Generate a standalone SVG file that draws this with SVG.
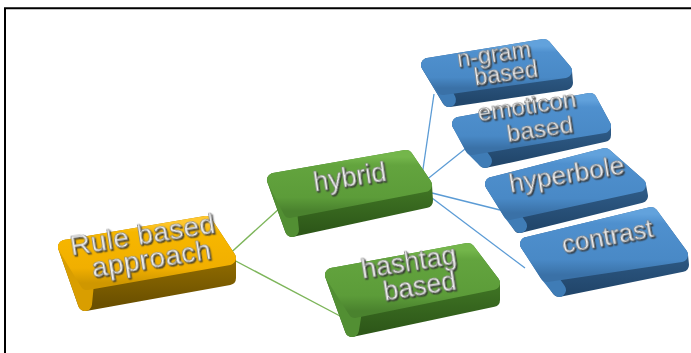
<svg xmlns="http://www.w3.org/2000/svg" width="691" height="353" viewBox="0 0 691 353">
  <style>
    .frame { stroke: #000; stroke-width: 2; fill: none; }
    .link-g { stroke: #7DB55A; stroke-width: 1.4; fill: none; }
    .link-b { stroke: #5B9BD5; stroke-width: 1.3; fill: none; }
    .sil, .side, .top { stroke-width: 14; stroke-linejoin: round; }
    .orange .sil { fill: url(#oSil); stroke: url(#oSil); }
    .orange .side { fill: #D99E00; stroke: #D99E00; }
    .orange .top { fill: url(#oTop); stroke: url(#oTop); }
    .green .sil { fill: url(#gSil); stroke: url(#gSil); }
    .green .side { fill: #528F33; stroke: #528F33; }
    .green .top { fill: url(#gTop); stroke: url(#gTop); }
    .blue .sil { fill: url(#bSil); stroke: url(#bSil); }
    .blue .side { fill: #3F7CB6; stroke: #3F7CB6; }
    .blue .top { fill: url(#bTop); stroke: url(#bTop); }
    .lbl { font-family: "Liberation Sans", Arial, sans-serif; fill: #F2F2F2; stroke: #7A7A7A; stroke-width: 0.7; text-anchor: middle; filter: url(#emboss); }
  </style>
  <defs>
    <linearGradient id="oTop" x1="0" y1="0" x2="0" y2="1">
      <stop offset="0" stop-color="#FFC72E"/>
      <stop offset="0.15" stop-color="#F7B700"/>
      <stop offset="0.75" stop-color="#F1AF00"/>
      <stop offset="1" stop-color="#CF9700"/>
    </linearGradient>
    <linearGradient id="oSil" x1="0" y1="0" x2="0" y2="1">
      <stop offset="0" stop-color="#B08300"/>
      <stop offset="1" stop-color="#6B5000"/>
    </linearGradient>
    <linearGradient id="gTop" x1="0" y1="0" x2="0" y2="1">
      <stop offset="0" stop-color="#74B64B"/>
      <stop offset="0.15" stop-color="#63A43E"/>
      <stop offset="0.75" stop-color="#5C9C39"/>
      <stop offset="1" stop-color="#4A822E"/>
    </linearGradient>
    <linearGradient id="gSil" x1="0" y1="0" x2="0" y2="1">
      <stop offset="0" stop-color="#4C8A2C"/>
      <stop offset="1" stop-color="#2E5819"/>
    </linearGradient>
    <linearGradient id="bTop" x1="0" y1="0" x2="0" y2="1">
      <stop offset="0" stop-color="#62A2DC"/>
      <stop offset="0.15" stop-color="#4F90CE"/>
      <stop offset="0.75" stop-color="#4989C6"/>
      <stop offset="1" stop-color="#3A71A7"/>
    </linearGradient>
    <linearGradient id="bSil" x1="0" y1="0" x2="0" y2="1">
      <stop offset="0" stop-color="#3A6EA0"/>
      <stop offset="1" stop-color="#22476C"/>
    </linearGradient>
    <filter id="emboss" x="-10%" y="-30%" width="120%" height="160%">
      <feDropShadow dx="1.2" dy="1.6" stdDeviation="0.6" flood-color="#2F2F2F" flood-opacity="0.85"/>
    </filter>
  </defs>

  <!-- frame lines -->
  <path class="frame" d="M4 8.2 H691 M5 8.2 V353"/>

  <!-- connectors -->
  <g id="connectors">
    <path class="link-g" d="M225 258 L280 208"/>
    <path class="link-g" d="M230 258 L340 316"/>
    <path class="link-b" d="M422 176 L434 94"/>
    <path class="link-b" d="M425 181 L470 145"/>
    <path class="link-b" d="M432 193 L500 210"/>
    <path class="link-b" d="M432 198 L525 268"/>
  </g>

  <!-- root -->
  <g id="node-rule-based" class="orange">
    <polygon class="sil" points="65,247 206,223 229,258 229,278 85,304"/>
    <polygon class="side" points="65,247 87,283 85,304"/>
    <polygon class="top" points="65,247 206,223 229,258 87,283"/>
    <text class="lbl" font-size="28" letter-spacing="0.5" x="144" y="244" transform="rotate(-9 144 244)">Rule based</text>
    <text class="lbl" font-size="28" letter-spacing="0.5" x="153" y="268" transform="rotate(-9 153 268)">approach</text>
  </g>

  <g id="node-hybrid" class="green">
    <polygon class="sil" points="274,180 406,157 425,185 426,201 292,230"/>
    <polygon class="side" points="274,180 290,211 292,230"/>
    <polygon class="top" points="274,180 406,157 425,185 290,211"/>
    <text class="lbl" font-size="27" x="351" y="186" transform="rotate(-8.5 351 186)">hybrid</text>
  </g>

  <g id="node-hashtag" class="green">
    <polygon class="sil" points="332,275 468,250 493,283 493,300 352,330"/>
    <polygon class="side" points="332,275 355,311 352,330"/>
    <polygon class="top" points="332,275 468,250 493,283 355,311"/>
    <text class="lbl" font-size="27" x="410" y="271" transform="rotate(-9 410 271)">hashtag</text>
    <text class="lbl" font-size="27" x="421" y="295" transform="rotate(-9 421 295)">based</text>
  </g>

  <g id="node-ngram" class="blue">
    <polygon class="sil" points="428,65 544,46 565,71 566,83 449,100"/>
    <polygon class="side" points="428,65 443,88 449,100"/>
    <polygon class="top" points="428,65 544,46 565,71 443,88"/>
    <text class="lbl" font-size="23.5" x="495" y="62" transform="rotate(-8 495 62)">n-gram</text>
    <text class="lbl" font-size="23.5" x="507" y="81" transform="rotate(-8 507 81)">based</text>
  </g>

  <g id="node-emoticon" class="blue">
    <polygon class="sil" points="459,124 590,100 604,126 604,135 485,161"/>
    <polygon class="side" points="459,124 472,148 485,161"/>
    <polygon class="top" points="459,124 590,100 604,126 472,148"/>
    <text class="lbl" font-size="24.5" x="528" y="114" transform="rotate(-8.5 528 114)">emoticon</text>
    <text class="lbl" font-size="24.5" x="541" y="137" transform="rotate(-8.5 541 137)">based</text>
  </g>

  <g id="node-hyperbole" class="blue">
    <polygon class="sil" points="492,184 605,155 639,185 641,196 520,226"/>
    <polygon class="side" points="492,184 510,213 520,226"/>
    <polygon class="top" points="492,184 605,155 639,185 510,213"/>
    <text class="lbl" font-size="26.5" x="568" y="183" transform="rotate(-9.5 568 183)">hyperbole</text>
  </g>

  <g id="node-contrast" class="blue">
    <polygon class="sil" points="527,244 651,214 681,255 682,265 559,290"/>
    <polygon class="side" points="527,244 547,275 559,290"/>
    <polygon class="top" points="527,244 651,214 681,255 547,275"/>
    <text class="lbl" font-size="26" x="609" y="245" transform="rotate(-10.5 609 245)">contrast</text>
  </g>
</svg>
